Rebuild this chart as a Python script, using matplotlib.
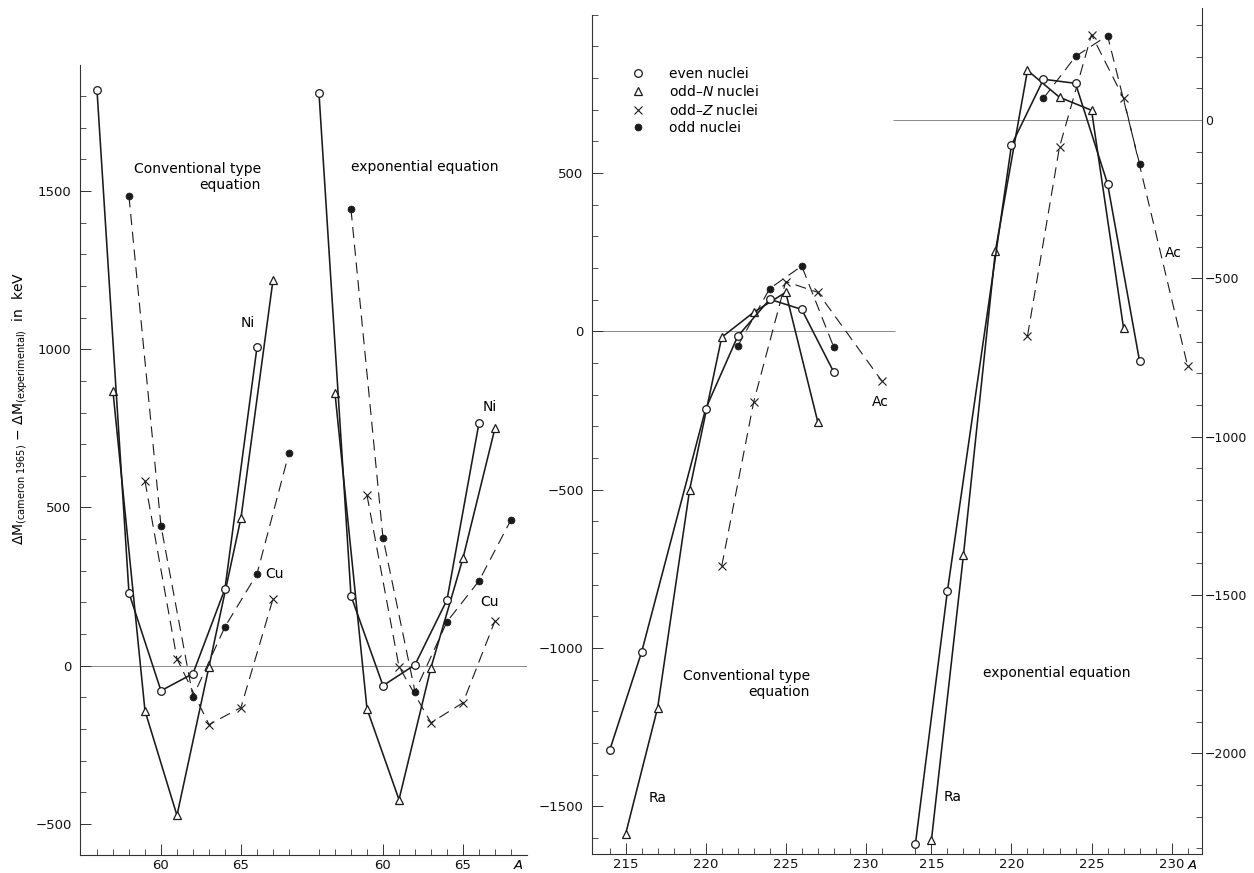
import matplotlib
matplotlib.use("Agg")
import matplotlib.pyplot as plt
from matplotlib.lines import Line2D
from matplotlib.ticker import MultipleLocator, FixedLocator
import matplotlib.transforms as mtrans

plt.rcParams['font.family'] = ['DejaVu Sans']
plt.rcParams['mathtext.fontset'] = 'dejavusans'

# ---------------- data: Ni / Cu region (left panel) ----------------
ni_even_A = [56, 58, 60, 62, 64, 66]
ni_oddN_A = [57, 59, 61, 63, 65, 67]
cu_oddZ_A = [59, 61, 63, 65, 67]
cu_odd_A = [58, 60, 62, 64, 66, 68]

conv_ni_even = [1820, 230, -79, -25, 243, 1006]
conv_ni_oddN = [867, -142, -473, -3, 467, 1218]
conv_cu_oddZ = [584, 22, -186, -132, 211]
conv_cu_odd = [1483, 442, -98, 123, 290, 672]

exp_ni_even = [1809, 221, -63, 3, 208, 767]
exp_ni_oddN = [861, -136, -423, -6, 340, 751]
exp_cu_oddZ = [539, -3, -180, -117, 142]
exp_cu_odd = [1442, 404, -82, 139, 268, 461]

# ---------------- data: Ra / Ac region (right panel) ----------------
ra_even_A = [214, 216, 220, 222, 224, 226, 228]
ra_oddN_A = [215, 217, 219, 221, 223, 225, 227]
ac_oddZ_A = [221, 223, 225, 227, 231]
ac_odd_A = [222, 224, 226, 228]

conv_ra_even = [-1324, -1013, -245, -16, 101, 69, -129]
conv_ra_oddN = [-1588, -1189, -500, -19, 60, 123, -286]
conv_ac_oddZ = [-742, -223, 157, 123, -157]
conv_ac_odd = [-47, 135, 206, -50]

exp_ra_even = [-2286, -1487, -79, 129, 116, -201, -761]
exp_ra_oddN = [-2274, -1374, -412, 157, 72, 31, -657]
exp_ac_oddZ = [-682, -85, 270, 69, -776]
exp_ac_odd = [69, 201, 267, -138]

legend_labels = ['even nuclei', 'odd\u2013$N$ nuclei', 'odd\u2013$Z$ nuclei', 'odd nuclei']

# ---------------- layout constants ----------------
OFF_L = 13.875     # x shift of second sub-panel in left figure
OFF_R = 19.1       # x shift of second sub-panel in right figure
Y_SHIFT = 667      # right-hand scale offset (right value = left value - Y_SHIFT)
INK = '#1a1a1a'
FS = 10
TFS = 9.5

solid = dict(color=INK, lw=1.15, ls='-')
dashed = dict(color=INK, lw=0.8, ls=(0, (10, 6)))
m_even = dict(marker='o', ms=5.5, mfc='white', mec=INK, mew=0.9)
m_oddN = dict(marker='^', ms=6, mfc='white', mec=INK, mew=0.9)
m_oddZ = dict(marker='x', ms=6, mec=INK, mew=0.8)
m_odd = dict(marker='o', ms=5, mfc=INK, mec=INK, mew=0.5)


def draw_set(ax, xoff, yoff, eA, e, nA, n, zA, z, oA, o):
    ax.plot([a + xoff for a in zA], [v + yoff for v in z], **dashed, **m_oddZ, zorder=3)
    ax.plot([a + xoff for a in oA], [v + yoff for v in o], **dashed, **m_odd, zorder=3)
    ax.plot([a + xoff for a in nA], [v + yoff for v in n], **solid, **m_oddN, zorder=4)
    ax.plot([a + xoff for a in eA], [v + yoff for v in e], **solid, **m_even, zorder=4)


W, H = 1254, 873
fig = plt.figure(figsize=(W / 100, H / 100), dpi=100)
fig.patch.set_facecolor('white')

# ================= left panel =================
ax1 = fig.add_axes([80 / W, 1 - 855 / H, 447 / W, 790 / H])
ax1.set_xlim(54.94, 82.875)
ax1.set_ylim(-598, 1898)
for s in ['top', 'right']:
    ax1.spines[s].set_visible(False)
for s in ['left', 'bottom']:
    ax1.spines[s].set_linewidth(0.8)
    ax1.spines[s].set_color('#333333')

ax1.axhline(0, color='#8a8a8a', lw=0.7, zorder=1)

draw_set(ax1, 0, 0, ni_even_A, conv_ni_even, ni_oddN_A, conv_ni_oddN,
         cu_oddZ_A, conv_cu_oddZ, cu_odd_A, conv_cu_odd)
draw_set(ax1, OFF_L, 0, ni_even_A, exp_ni_even, ni_oddN_A, exp_ni_oddN,
         cu_oddZ_A, exp_cu_oddZ, cu_odd_A, exp_cu_odd)

ax1.set_xticks([60, 65, 60 + OFF_L, 65 + OFF_L])
ax1.set_xticklabels(['60', '65', '60', '65'])
ax1.xaxis.set_minor_locator(FixedLocator(list(range(56, 69)) + [a + OFF_L for a in range(56, 69)]))
ax1.set_yticks([-500, 0, 500, 1000, 1500])
ax1.set_yticklabels(['\u2212500', '0', '500', '1000', '1500'])
ax1.yaxis.set_minor_locator(MultipleLocator(100))
ax1.tick_params(which='major', direction='in', length=8, width=0.7, labelsize=TFS, colors='#333333', labelcolor='#111111')
ax1.tick_params(which='minor', direction='in', length=4.5, width=0.6, colors='#333333')
ax1.tick_params(axis='y', which='both', pad=6)
ax1.tick_params(axis='x', which='both', pad=3)

ax1.text(66.25, 1592, 'Conventional type\nequation', ha='right', va='top',
         multialignment='right', fontsize=FS, linespacing=1.15)
ax1.text(76.5, 1575, 'exponential equation', ha='center', va='center', fontsize=FS)
ax1.text(65.4, 1083, 'Ni', ha='center', va='center', fontsize=FS)
ax1.text(80.56, 818, 'Ni', ha='center', va='center', fontsize=FS)
ax1.text(67.1, 290, 'Cu', ha='center', va='center', fontsize=FS)
ax1.text(80.56, 202, 'Cu', ha='center', va='center', fontsize=FS)
trans1 = mtrans.blended_transform_factory(ax1.transData, ax1.transAxes)
ax1.text(82.3, -0.0135, 'A', style='italic', ha='center', va='center', fontsize=TFS, transform=trans1)

fig.text(20 / W, 1 - 408 / H,
         r'$\Delta$M$_{\mathrm{(cameron\ 1965)}}$ $-$ $\Delta$M$_{\mathrm{(experimental)}}$  in  keV',
         rotation=90, ha='center', va='center', fontsize=FS)

# ================= right panel =================
ax2 = fig.add_axes([592 / W, 1 - 854 / H, 610 / W, 846 / H])
ax2.set_xlim(212.9, 251.0)
ax2.set_ylim(-1651, 1021)
for s in ['top', 'right']:
    ax2.spines[s].set_visible(False)
for s in ['left', 'bottom']:
    ax2.spines[s].set_linewidth(0.8)
    ax2.spines[s].set_color('#333333')
ax2.spines['left'].set_bounds(-1651, 1000)

ax2.hlines(0, 212.9, 231.8, color='#8a8a8a', lw=0.7, zorder=1)
ax2.hlines(Y_SHIFT, 231.7, 251.0, color='#8a8a8a', lw=0.7, zorder=1)

draw_set(ax2, 0, 0, ra_even_A, conv_ra_even, ra_oddN_A, conv_ra_oddN,
         ac_oddZ_A, conv_ac_oddZ, ac_odd_A, conv_ac_odd)
draw_set(ax2, OFF_R, Y_SHIFT, ra_even_A, exp_ra_even, ra_oddN_A, exp_ra_oddN,
         ac_oddZ_A, exp_ac_oddZ, ac_odd_A, exp_ac_odd)

ax2.set_xticks([215, 220, 225, 230, 215 + OFF_R, 220 + OFF_R, 225 + OFF_R, 230 + OFF_R])
ax2.set_xticklabels(['215', '220', '225', '230', '215', '220', '225', '230'])
ax2.xaxis.set_minor_locator(FixedLocator(list(range(214, 232)) + [a + OFF_R for a in range(214, 232)]))
ax2.set_yticks([-1500, -1000, -500, 0, 500])
ax2.set_yticklabels(['\u22121500', '\u22121000', '\u2212500', '0', '500'])
ax2.yaxis.set_minor_locator(MultipleLocator(100))
ax2.tick_params(which='major', direction='in', length=8, width=0.7, labelsize=TFS, colors='#333333', labelcolor='#111111')
ax2.tick_params(which='minor', direction='in', length=4.5, width=0.6, colors='#333333')
ax2.tick_params(axis='y', which='both', pad=6)
ax2.tick_params(axis='x', which='both', pad=3)

sec = ax2.secondary_yaxis('right', functions=(lambda v: v - Y_SHIFT, lambda v: v + Y_SHIFT))
sec.set_yticks([-2000, -1500, -1000, -500, 0])
sec.set_yticklabels(['\u22122000', '\u22121500', '\u22121000', '\u2212500', '0'])
sec.yaxis.set_minor_locator(MultipleLocator(100))
sec.spines['right'].set_linewidth(0.8)
sec.spines['right'].set_color('#333333')
sec.tick_params(which='major', direction='in', length=8, width=0.7, labelsize=9, colors='#333333', labelcolor='#111111', pad=2)
sec.tick_params(which='minor', direction='in', length=4.5, width=0.6, colors='#333333', pad=2)

handles = [
    Line2D([], [], ls='none', **m_even),
    Line2D([], [], ls='none', **m_oddN),
    Line2D([], [], ls='none', **m_oddZ),
    Line2D([], [], ls='none', **m_odd),
]
ax2.legend(handles, legend_labels, loc='upper left', bbox_to_anchor=(0.055, 0.937),
           frameon=False, fontsize=FS, handlelength=1.0, handletextpad=1.7,
           labelspacing=0.25, borderaxespad=0)

ax2.text(230.9, -223, 'Ac', ha='center', va='center', fontsize=FS)
ax2.text(249.2, 248, 'Ac', ha='center', va='center', fontsize=FS)
ax2.text(217.0, -1475, 'Ra', ha='center', va='center', fontsize=FS)
ax2.text(235.4, -1471, 'Ra', ha='center', va='center', fontsize=FS)
ax2.text(226.5, -1114, 'Conventional type\nequation', ha='right', va='center',
         multialignment='right', fontsize=FS, linespacing=1.15)
ax2.text(241.9, -1080, 'exponential equation', ha='center', va='center', fontsize=FS)
trans2 = mtrans.blended_transform_factory(ax2.transData, ax2.transAxes)
ax2.text(250.4, -0.0135, 'A', style='italic', ha='center', va='center', fontsize=TFS, transform=trans2)

fig.savefig('out.png', dpi=100, facecolor='white')
